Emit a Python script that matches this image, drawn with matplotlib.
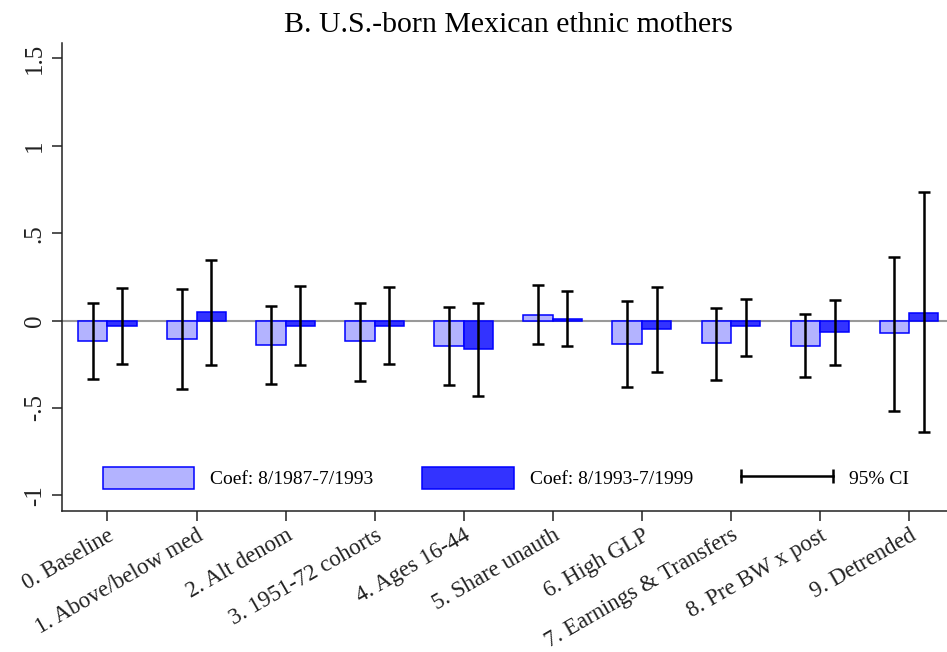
import numpy as np
import matplotlib
matplotlib.use("Agg")
import matplotlib.pyplot as plt
from matplotlib.patches import Patch
from matplotlib.lines import Line2D
from matplotlib.legend_handler import HandlerLine2D

plt.rcParams['font.family'] = ['Liberation Serif', 'DejaVu Serif']

categories = ["0. Baseline", "1. Above/below med", "2. Alt denom", "3. 1951-72 cohorts",
              "4. Ages 16-44", "5. Share unauth", "6. High GLP", "7. Earnings & Transfers",
              "8. Pre BW x post", "9. Detrended"]

# coefficients 8/1987-7/1993
coef1 = [-0.117, -0.105, -0.139, -0.120, -0.145, 0.032, -0.133, -0.130, -0.143, -0.072]
ci1_hi = [0.099, 0.179, 0.082, 0.099, 0.076, 0.202, 0.110, 0.074, 0.036, 0.366]
ci1_lo = [-0.337, -0.394, -0.364, -0.347, -0.370, -0.133, -0.381, -0.339, -0.324, -0.518]

# coefficients 8/1993-7/1999
coef2 = [-0.029, 0.046, -0.029, -0.029, -0.162, 0.010, -0.050, -0.034, -0.067, 0.044]
ci2_hi = [0.186, 0.349, 0.196, 0.189, 0.101, 0.168, 0.194, 0.126, 0.116, 0.735]
ci2_lo = [-0.248, -0.254, -0.255, -0.251, -0.431, -0.145, -0.297, -0.204, -0.257, -0.640]

light = "#b3b3ff"
dark = "#3333ff"
edge = "#0000ff"

fig = plt.figure(figsize=(9.47, 6.52), dpi=100)
ax = fig.add_axes([0.0658, 0.2163, 0.9342, 0.7182])

x = np.arange(len(categories))
w = 0.33

ax.axhline(0, color="#999999", lw=1.5, zorder=1)

ax.bar(x - w / 2, coef1, w, color=light, edgecolor=edge, lw=1.1, zorder=2)
ax.bar(x + w / 2, coef2, w, color=dark, edgecolor=edge, lw=1.1, zorder=2)

c1 = np.array(coef1)
c2 = np.array(coef2)
err1 = [c1 - np.array(ci1_lo), np.array(ci1_hi) - c1]
err2 = [c2 - np.array(ci2_lo), np.array(ci2_hi) - c2]
ax.errorbar(x - w / 2, c1, yerr=err1, fmt="none", ecolor="black", elinewidth=1.8,
            capsize=4.6, capthick=1.8, zorder=3)
ax.errorbar(x + w / 2, c2, yerr=err2, fmt="none", ecolor="black", elinewidth=1.8,
            capsize=4.6, capthick=1.8, zorder=3)

ax.set_xlim(-0.507, 9.426)
ax.set_ylim(-1.09, 1.59)

ax.set_yticks([-1, -0.5, 0, 0.5, 1, 1.5])
ax.set_yticklabels(["-1", "-.5", "0", ".5", "1", "1.5"], rotation=90, va="center",
                   fontsize=18)
ax.set_xticks(x)
ax.set_xticklabels(categories, rotation=30, ha="right", va="top",
                   rotation_mode="anchor", fontsize=16.5)

ax.tick_params(direction="out", length=7, width=1.1, colors="#222222")
ax.tick_params(axis="y", pad=5)
ax.tick_params(axis="x", pad=3)
for s in ["top", "right"]:
    ax.spines[s].set_visible(False)
for s in ["left", "bottom"]:
    ax.spines[s].set_linewidth(1.1)
    ax.spines[s].set_color("#222222")

ax.set_title("B. U.S.-born Mexican ethnic mothers", fontsize=21.5, pad=8, x=0.504)

handles = [Patch(facecolor=light, edgecolor=edge, lw=1.1),
           Patch(facecolor=dark, edgecolor=edge, lw=1.1),
           Line2D([], [], color="black", lw=1.8, marker="|", markersize=10, mew=1.8)]
labels = ["Coef: 8/1987-7/1993", "Coef: 8/1993-7/1999", "95% CI"]
ax.legend(handles, labels, ncol=3, frameon=False, fontsize=14, loc="center left",
          bbox_to_anchor=(0.046, 0.0705), borderpad=0, borderaxespad=0,
          handlelength=4.7, handleheight=1.3, handletextpad=0.82, columnspacing=2.5,
          handler_map={Line2D: HandlerLine2D(numpoints=2, marker_pad=0)})

fig.savefig("out.png", dpi=100)
